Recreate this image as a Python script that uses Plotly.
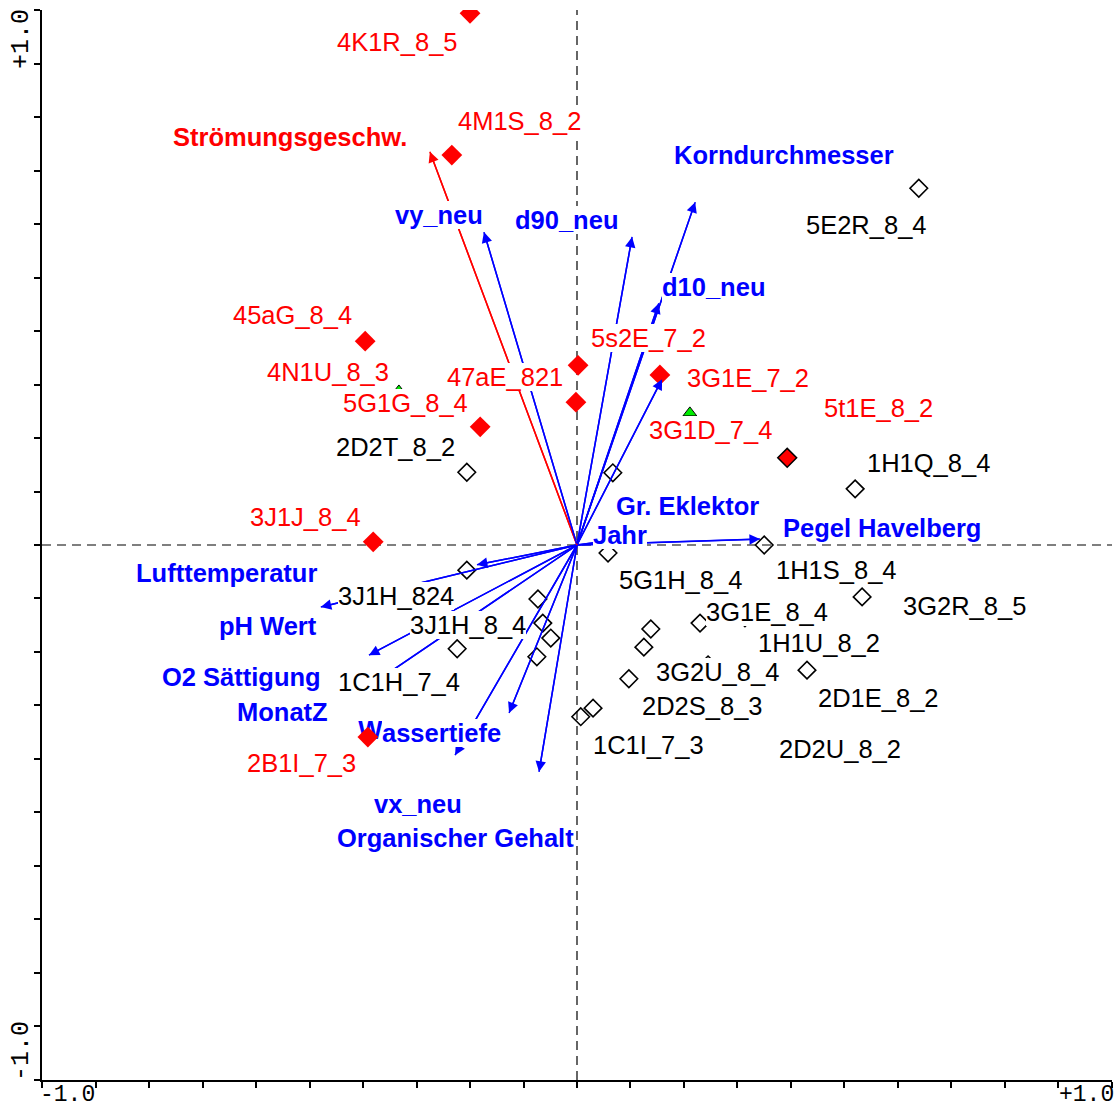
import plotly.graph_objects as go

FONT = "Liberation Sans"
MONO = "Liberation Mono"
RED = "#ff0000"
BLUE = "#0000ff"
FS = 25.5

# ---------------- sample scores (axis 1, axis 2) ----------------
red_names = ["4K1R_8_5", "4M1S_8_2", "45aG_8_4", "5G1G_8_4", "3J1J_8_4",
             "47aE_821", "5s2E_7_2", "3G1E_7_2", "5t1E_8_2", "2B1I_7_3"]
red_x = [-0.200, -0.234, -0.396, -0.181, -0.381, -0.002, 0.002, 0.155, 0.393, -0.391]
red_y = [0.994, 0.729, 0.381, 0.221, 0.006, 0.267, 0.336, 0.318, 0.163, -0.359]
red_label_x = [-0.336, -0.107, -0.531, -0.321, -0.508, -0.135, 0.133, 0.320, 0.564, -0.516]
red_label_y = [0.940, 0.793, 0.430, 0.265, 0.052, 0.314, 0.387, 0.312, 0.256, -0.407]
red_outlined = ["5t1E_8_2"]

green_names = ["4N1U_8_3", "3G1D_7_4"]
green_x = [-0.333, 0.211]
green_y = [0.288, 0.247]
green_label_x = [-0.465, 0.249]
green_label_y = [0.323, 0.215]

open_names = ["5E2R_8_4", "2D2T_8_2", "", "1H1Q_8_4", "1H1S_8_4", "5G1H_8_4",
              "3G2R_8_5", "3G1E_8_4", "1H1U_8_2", "3G2U_8_4", "", "2D1E_8_2",
              "2D2S_8_3", "2D2U_8_2", "1C1I_7_3", "", "3J1H_824", "3J1H_8_4",
              "", "", "", "1C1H_7_4"]
open_x = [0.639, -0.206, 0.067, 0.520, 0.350, 0.058,
          0.533, 0.230, 0.314, 0.125, 0.138, 0.430,
          0.097, 0.245, 0.007, 0.030, -0.206, -0.073,
          -0.064, -0.049, -0.075, -0.224]
open_y = [0.667, 0.136, 0.135, 0.105, 0.000, -0.015,
          -0.097, -0.146, -0.136, -0.191, -0.157, -0.234,
          -0.250, -0.224, -0.321, -0.305, -0.047, -0.101,
          -0.146, -0.174, -0.209, -0.194]
open_label_x = [0.542, -0.340, None, 0.658, 0.486, 0.194,
                0.725, 0.355, 0.452, 0.262, None, 0.564,
                0.234, 0.492, 0.133, None, -0.338, -0.204,
                None, None, None, -0.333]
open_label_y = [0.598, 0.183, None, 0.153, -0.047, -0.065,
                -0.114, -0.125, -0.183, -0.237, None, -0.286,
                -0.301, -0.381, -0.374, None, -0.095, -0.150,
                None, None, None, -0.256]

# ---------------- environmental variables (arrow tips) ----------------
env_names = ["Strömungsgeschw.", "vy_neu", "d90_neu", "d10_neu", "Korndurchmesser",
             "Gr. Eklektor", "Jahr", "Pegel Havelberg", "Lufttemperatur", "pH Wert",
             "O2 Sättigung", "MonatZ", "Wassertiefe", "vx_neu", "Organischer Gehalt"]
env_x = [-0.275, -0.174, 0.103, 0.153, 0.221,
         0.159, 0.054, 0.342, -0.187, -0.479,
         -0.389, -0.368, -0.228, -0.127, -0.071]
env_y = [0.735, 0.585, 0.576, 0.452, 0.641,
         0.310, 0.007, 0.011, -0.037, -0.116,
         -0.206, -0.250, -0.393, -0.314, -0.424]
env_label_x = [-0.536, -0.258, -0.019, 0.256, 0.387,
               0.207, 0.080, 0.570, -0.656, -0.578,
               -0.628, -0.551, -0.275, -0.297, -0.228]
env_label_y = [0.763, 0.617, 0.607, 0.482, 0.729,
               0.073, 0.019, 0.032, -0.052, -0.151,
               -0.247, -0.312, -0.351, -0.484, -0.548]
env_highlight = ["Strömungsgeschw."]

axis_min_label = "-1.0"
axis_max_label = "+1.0"

# ---------------- layout geometry ----------------
W, H = 1117, 1108
ML, MR, MT, MB = 42, 5, 10, 28
PX_PER_UNIT = (W - ML - MR) / 2.0

fig = go.Figure()

env_color = [RED if n in env_highlight else BLUE for n in env_names]

# arrow shafts
for col in (BLUE, RED):
    X, Y = [], []
    for x, y, c in zip(env_x, env_y, env_color):
        if c == col:
            X += [0, x, None]
            Y += [0, y, None]
    fig.add_trace(go.Scatter(x=X, y=Y, mode="lines", line=dict(color=col, width=1.5),
                             hoverinfo="skip", showlegend=False))

# first letter of "Wassertiefe" lies beneath a sample marker
under_first = {"Wassertiefe": 0.944}   # em-width of the bold first glyph
bold_w = {"W": .944, "a": .556, "s": .556, "e": .556, "r": .389, "t": .333,
          "i": .278, "f": .333}
split_labels = {}
for n, lx, ly in zip(env_names, env_label_x, env_label_y):
    if n in under_first:
        full_w = sum(bold_w.get(ch, .556) for ch in n) * FS / PX_PER_UNIT
        left = lx - full_w / 2
        w0 = under_first[n] * FS / PX_PER_UNIT
        split_labels[n] = (left + w0 / 2, left + w0, ly)
        fig.add_trace(go.Scatter(x=[left + w0 / 2], y=[ly], mode="text", text=["<b>" + n[0] + "</b>"],
                                 textposition="middle center",
                                 textfont=dict(family=FONT, size=FS, color=BLUE),
                                 hoverinfo="skip", showlegend=False))

# open sample diamonds
fig.add_trace(go.Scatter(x=open_x, y=open_y, mode="markers",
                         marker=dict(symbol="diamond-open", size=13.5, color="black", opacity=1,
                                     line=dict(width=1.6, color="black")),
                         hoverinfo="skip", showlegend=False))
# red sample diamonds
fig.add_trace(go.Scatter(x=red_x, y=red_y, mode="markers",
                         marker=dict(symbol="diamond", opacity=1,
                                     size=[14.5 if n in red_outlined else 16 for n in red_names],
                                     color=RED,
                                     line=dict(width=[1.5 if n in red_outlined else 0 for n in red_names],
                                               color=["black" if n in red_outlined else RED for n in red_names])),
                         hoverinfo="skip", showlegend=False))
# green triangles
fig.add_trace(go.Scatter(x=green_x, y=green_y, mode="markers",
                         marker=dict(symbol="triangle-up", size=12, color="#00ee00", opacity=1,
                                     line=dict(width=1, color="black")),
                         hoverinfo="skip", showlegend=False))

annotations = []
# arrow heads
for x, y, c in zip(env_x, env_y, env_color):
    annotations.append(dict(x=x, y=y, ax=0, ay=0, xref="x", yref="y", axref="x", ayref="y",
                            text="", showarrow=True, arrowhead=2, arrowsize=1.4,
                            arrowwidth=1.5, arrowcolor=c, standoff=0, startstandoff=0))


def label(x, y, txt, color, bold=False, xanchor="center"):
    return dict(x=x, y=y, xref="x", yref="y", text=("<b>%s</b>" % txt) if bold else txt,
                showarrow=False, xanchor=xanchor, yanchor="middle",
                font=dict(family=FONT, size=FS, color=color),
                bgcolor="white", borderpad=0, borderwidth=0)


for n, lx, ly in zip(open_names, open_label_x, open_label_y):
    if n and lx is not None:
        annotations.append(label(lx, ly, n, "black"))
for n, lx, ly in zip(red_names, red_label_x, red_label_y):
    annotations.append(label(lx, ly, n, RED))
for n, lx, ly in zip(green_names, green_label_x, green_label_y):
    annotations.append(label(lx, ly, n, RED))
for n, lx, ly, c in zip(env_names, env_label_x, env_label_y, env_color):
    if n in split_labels:
        _, x_rest, yy = split_labels[n]
        annotations.append(label(x_rest, yy, n[1:], c, bold=True, xanchor="left"))
    else:
        annotations.append(label(lx, ly, n, c, bold=True))

# axis end labels
tick_font = dict(family=MONO, size=23, color="black")
annotations += [
    dict(x=0, y=0, xref="paper", yref="paper", text=axis_min_label, showarrow=False,
         xanchor="left", yanchor="top", yshift=-2, xshift=-2, borderpad=0,
         borderwidth=0, font=tick_font),
    dict(x=1, y=0, xref="paper", yref="paper", text=axis_max_label, showarrow=False,
         xanchor="right", yanchor="top", yshift=-2, xshift=2, borderpad=0,
         borderwidth=0, font=tick_font),
    dict(x=0, y=1, xref="paper", yref="paper", text=axis_max_label, showarrow=False,
         xanchor="center", yanchor="top", xshift=-21, yshift=3, textangle=-90,
         font=dict(family=MONO, size=25, color="black")),
    dict(x=0, y=0, xref="paper", yref="paper", text=axis_min_label, showarrow=False,
         xanchor="center", yanchor="bottom", xshift=-21, yshift=-3, textangle=-90,
         font=dict(family=MONO, size=25, color="black")),
]

ticks = [i / 10 for i in range(-10, 11)]
axis_common = dict(range=[-1.0002, 1.0002], showgrid=False, zeroline=False,
                   showline=True, linecolor="black", linewidth=2,
                   ticks="outside", ticklen=6, tickwidth=2, tickcolor="black",
                   tickvals=ticks, showticklabels=False, mirror=False, fixedrange=True)

fig.update_layout(
    width=W, height=H, autosize=False,
    margin=dict(l=ML, r=MR, t=MT, b=MB, pad=0),
    paper_bgcolor="white", plot_bgcolor="white",
    xaxis=axis_common, yaxis=axis_common,
    showlegend=False,
    annotations=annotations,
    shapes=[
        dict(type="line", xref="x", yref="paper", x0=0, x1=0, y0=0, y1=1,
             line=dict(color="black", width=1.2, dash="9px,6px"), layer="below"),
        dict(type="line", xref="paper", yref="y", x0=0, x1=1, y0=0, y1=0,
             line=dict(color="black", width=1.2, dash="9px,6px"), layer="below"),
    ],
)

fig.write_html("out.html")
